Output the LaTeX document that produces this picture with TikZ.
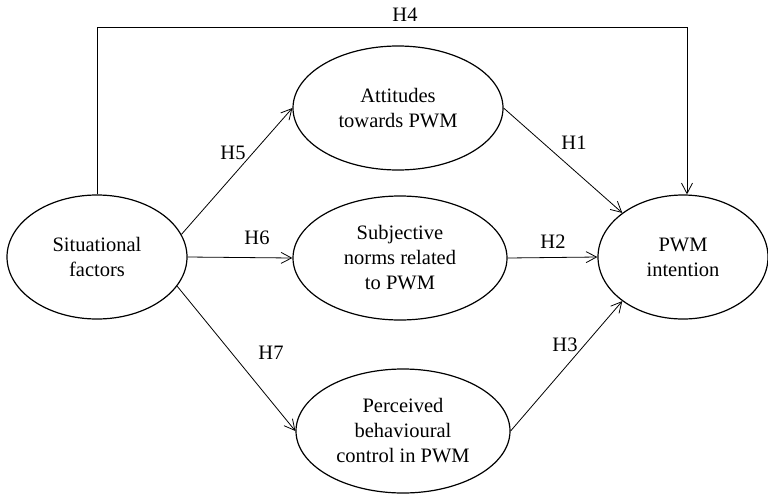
\documentclass[tikz,border=0pt]{standalone}
\usepackage{fontspec}
\setmainfont{Liberation Serif}
\usetikzlibrary{shapes.geometric,arrows.meta}
\begin{document}
\begin{tikzpicture}[x=1pt,y=-1pt,
  >={Straight Barb[length=10.5pt,width=11pt]},
  construct/.style={draw, ellipse, line width=1.2pt, inner sep=0pt,
    minimum height=124pt, align=center, font=\fontsize{20.5}{25}\selectfont},
  hyp/.style={->, line width=0.8pt},
  hlabel/.style={font=\fontsize{20.5}{25}\selectfont}]
\useasboundingbox (0,0) rectangle (768,496);
% Constructs
\node[construct, minimum width=180pt] (sit) at (97,257) {Situational\\factors};
\node[construct, minimum width=210pt] (att) at (398,108) {Attitudes\\towards PWM};
\node[construct, minimum width=214pt] (sub) at (400,258) {Subjective\\norms related\\to PWM};
\node[construct, minimum width=214pt] (pbc) at (403,431) {Perceived\\behavioural\\control in PWM};
\node[construct, minimum width=170pt] (int) at (683,257) {PWM\\intention};

% Hypotheses
\coordinate (corner) at (687,27);
\draw[hyp] (sit.north) |- (corner) -- (corner |- int.north);
\draw[hyp] (att.east) -- (int.144);
\draw[hyp] (sub.east) -- (int.west);
\draw[hyp] (pbc.east) -- (int.216);
\draw[hyp] (sit.15) -- (att.west);
\draw[hyp] (sit.east) -- (sub.west);
\draw[hyp] (sit.-20) -- (pbc.west);

\node[hlabel] (h4) at (405,15) {H4};
\node[hlabel] (h1) at (574,143) {H1};
\node[hlabel] (h2) at (553,242) {H2};
\node[hlabel] (h3) at (565,345) {H3};
\node[hlabel] (h5) at (233,153) {H5};
\node[hlabel] (h6) at (257,238) {H6};
\node[hlabel] (h7) at (271,353) {H7};
\end{tikzpicture}
\end{document}
